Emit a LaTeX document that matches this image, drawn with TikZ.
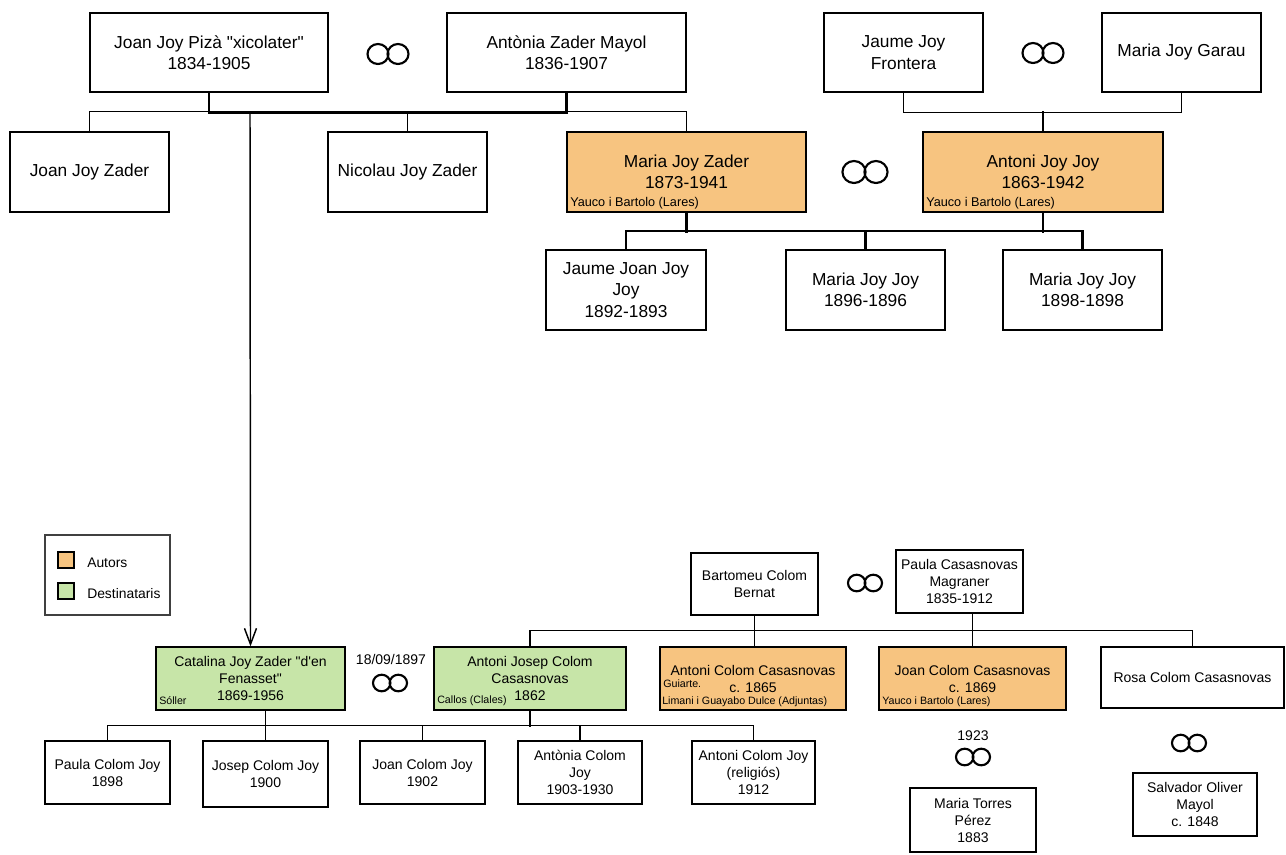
\documentclass[tikz,border=0pt]{standalone}
\usepackage{fontspec}
\setmainfont{Liberation Sans}
\usepackage{tikz}
\usetikzlibrary{arrows.meta}

\definecolor{autorfill}{RGB}{247,196,128}
\definecolor{destfill}{RGB}{199,229,168}

\tikzset{
  sz/.style 2 args={minimum width=#1*0.75pt, minimum height=#2*0.75pt},
  person/.style={draw, line width=1.1pt, align=center, inner sep=0pt, font=\fontsize{13}{16}\selectfont},
  kid/.style={draw, line width=0.9pt, align=center, inner sep=0pt, font=\fontsize{10.5}{12.75}\selectfont},
  autor/.style={fill=autorfill},
  desti/.style={fill=destfill},
  place/.style={anchor=west, inner sep=0pt, font=\fontsize{9.5}{11}\selectfont},
  placeb/.style={anchor=west, inner sep=0pt, font=\fontsize{8}{9}\selectfont},
  couple/.style={line width=1.8pt},
  kin/.style={line width=1.1pt},
  kinb/.style={line width=0.8pt},
  pics/wed/.style={code={
    \draw[line width=1.6pt] (-10,0) ellipse (10.5 and 10);
    \draw[line width=1.6pt] (10,0) ellipse (10.5 and 10);}},
}

\begin{document}
\begin{tikzpicture}[x=0.75pt, y=-0.75pt]
  \useasboundingbox (0,0) rectangle (1286,854);

  % Joy - Zader
  \node[person, sz={238}{79}] (joanP) at (209,52.5) {Joan Joy Pizà \textquotedbl xicolater\textquotedbl\\1834-1905};
  \node[person, sz={239}{79}] (antoniaZ) at (566.5,52.5) {Antònia Zader Mayol\\1836-1907};
  \pic at (388,54) {wed};
  \node[person, sz={159}{79}] (jaumeJF) at (903.5,52.5) {Jaume Joy\\Frontera};
  \node[person, sz={159}{79}] (mariaJG) at (1181.5,52.5) {Maria Joy Garau};
  \pic at (1043,53) {wed};

  \node[person, sz={159}{80}] (joanJZ) at (89.5,172) {Joan Joy Zader};
  \node[person, sz={159}{80}] (nicolauJZ) at (407.5,172) {Nicolau Joy Zader};
  \node[person, autor, sz={239}{80}] (mariaJZ) at (686.5,172) {Maria Joy Zader\\1873-1941};
  \node[place] (mariaJZp) at (570,203) {Yauco i Bartolo (Lares)};
  \pic[scale=1.1] at (865,172) {wed};
  \node[person, autor, sz={240}{80}] (antoniJJ) at (1043,172) {Antoni Joy Joy\\1863-1942};
  \node[place] (antoniJJp) at (926,203) {Yauco i Bartolo (Lares)};

  \node[person, sz={160}{80}] (jaumeJJ) at (626,290) {Jaume Joan Joy\\Joy\\1892-1893};
  \node[person, sz={159}{80}] (mariaJJa) at (865.5,290) {Maria Joy Joy\\1896-1896};
  \node[person, sz={159}{80}] (mariaJJb) at (1082.5,290) {Maria Joy Joy\\1898-1898};

  \draw[couple] (joanP.south) -- ++(0,20) -| (antoniaZ.south);
  \draw[kin] (joanJZ.north) -- ++(0,-20) -| (mariaJZ.north);
  \draw[kin] (nicolauJZ.north) -- ++(0,-20);
  \draw[kin] (jaumeJF.south) -- ++(0,20) -| (mariaJG.south);
  \draw[couple] (antoniJJ.north) -- ++(0,-20);
  \draw[couple] (mariaJZ.south) -- ++(0,20);
  \draw[couple] (antoniJJ.south) -- ++(0,20);
  \draw[couple] (jaumeJJ.north) -- ++(0,-18) -| (mariaJJb.north);
  \draw[couple] (mariaJJa.north) -- ++(0,-18);

  % legend
  \node[draw=black!75, line width=0.8pt, sz={125}{80}] (legend) at (107.5,575) {};
  \node[draw, line width=0.9pt, fill=autorfill, sz={16}{16}, inner sep=0pt] (keyA) at (66,560) {};
  \node[draw, line width=0.9pt, fill=destfill, sz={16}{16}, inner sep=0pt] (keyD) at (66,591) {};
  \node[anchor=west, inner sep=0pt, font=\fontsize{10.4}{12}\selectfont] (keyAt) at (87,563) {Autors};
  \node[anchor=west, inner sep=0pt, font=\fontsize{10.4}{12}\selectfont] (keyDt) at (87,594) {Destinataris};

  % Colom - Casasnovas
  \node[kid, sz={127}{62}] (bartomeu) at (754.5,584) {Bartomeu Colom\\Bernat};
  \pic[scale=0.83] at (865,583) {wed};
  \node[kid, sz={127}{63}] (paulaC) at (959.5,581.5) {Paula Casasnovas\\Magraner\\1835-1912};

  \node[kid, desti, sz={189}{63}] (catalina) at (250.5,678.5) {Catalina Joy Zader \textquotedbl d\textquotesingle en\\Fenasset\textquotedbl\\1869-1956};
  \node[placeb] (catalinap) at (159,701) {Sóller};
  \node[kid, inner sep=0pt, draw=none] (wedding) at (391,659) {18/09/1897};
  \pic[scale=0.83] at (390,683) {wed};
  \node[kid, desti, sz={192}{63}] (antoniJC) at (530,678.5) {Antoni Josep Colom\\Casasnovas\\1862};
  \node[placeb] (antoniJCp) at (437,701) {Callos (Clales)};
  \node[kid, autor, sz={186}{63}] (antoniCC) at (753,678.5) {Antoni Colom Casasnovas\\c. 1865};
  \node[placeb] (antoniCCa) at (663,684) {Guiarte.};
  \node[placeb] (antoniCCb) at (662,702) {Limani i Guayabo Dulce (Adjuntas)};
  \node[kid, autor, sz={187}{63}] (joanCC) at (972.5,678.5) {Joan Colom Casasnovas\\c. 1869};
  \node[placeb] (joanCCp) at (882,702) {Yauco i Bartolo (Lares)};
  \node[kid, sz={183}{61}] (rosaCC) at (1192.5,677.5) {Rosa Colom Casasnovas};

  \node[kid, sz={125}{63}] (paulaCJ) at (107.5,772.5) {Paula Colom Joy\\1898};
  \node[kid, sz={125}{66}] (josepCJ) at (265.5,774) {Josep Colom Joy\\1900};
  \node[kid, sz={125}{63}] (joanCJ) at (422.5,772.5) {Joan Colom Joy\\1902};
  \node[kid, sz={124}{63}] (antoniaCJ) at (580,772.5) {Antònia Colom\\Joy\\1903-1930};
  \node[kid, sz={123}{63}] (antoniCJ) at (753.5,772.5) {Antoni Colom Joy\\(religiós)\\1912};

  \node[kid, draw=none] (year) at (973,736) {1923};
  \pic[scale=0.83] at (973,757) {wed};
  \node[kid, sz={126}{64}] (mariaTP) at (973,820) {Maria Torres\\Pérez\\1883};
  \pic[scale=0.83] at (1189,743) {wed};
  \node[kid, sz={124}{63}] (salvadorOM) at (1195,804.5) {Salvador Oliver\\Mayol\\c. 1848};

  \coordinate (fork) at (250,112);
  \draw[kin, -{Straight Barb[length=12pt,width=9pt]}] (fork) -- (catalina.north);
  \draw[kinb] (antoniJC.north) -- ++(0,-16) -| (rosaCC.north);
  \draw[kinb] (bartomeu.south) -- (bartomeu.south |- antoniCC.north);
  \draw[kinb] (paulaC.south -| joanCC.north) -- (joanCC.north);
  \draw[kinb] (paulaCJ.north) -- ++(0,-15) -| (antoniCJ.north);
  \draw[kinb] (catalina.south -| josepCJ.north) -- (josepCJ.north);
  \draw[kinb] (antoniJC.south) -- ++(0,16);
  \draw[kinb] (joanCJ.north) -- ++(0,-15);
  \draw[kinb] (antoniaCJ.north) -- ++(0,-15);
\end{tikzpicture}
\end{document}
